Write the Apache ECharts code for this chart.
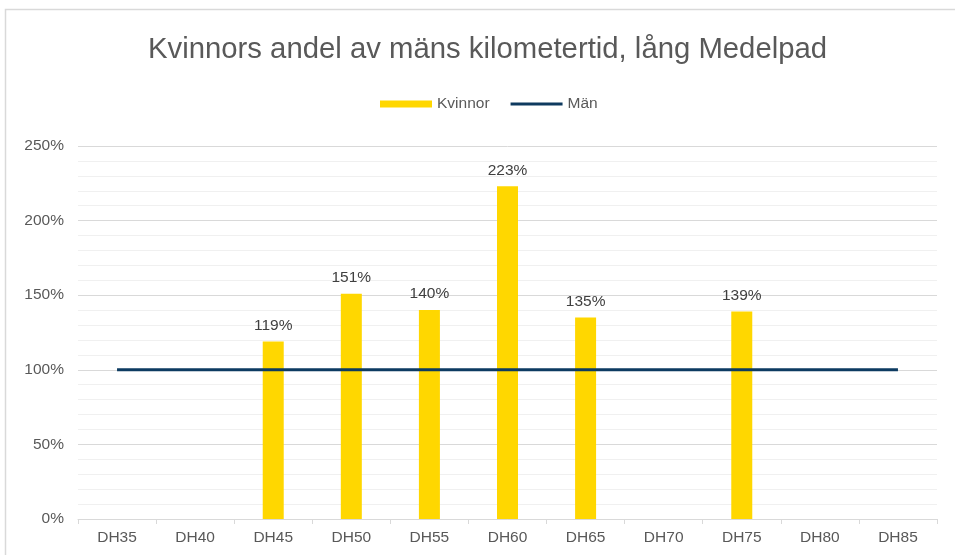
<!DOCTYPE html>
<html>
<head>
<meta charset="utf-8">
<script src="https://cdn.jsdelivr.net/npm/echarts@6/dist/echarts.min.js"></script>
<style>
  html, body { margin: 0; padding: 0; background: #fff; }
  #chart { width: 955px; height: 555px; }
</style>
</head>
<body>
<div id="chart"></div>
<script>
const categories = ["DH35", "DH40", "DH45", "DH50", "DH55", "DH60", "DH65", "DH70", "DH75", "DH80", "DH85"];
const kvinnor = [null, null, 119, 151, 140, 223, 135, null, 139, null, null];
const man = [100, 100, 100, 100, 100, 100, 100, 100, 100, 100, 100];

const chart = echarts.init(document.getElementById("chart"));

const option = {
  animation: false,
  textStyle: { fontFamily: "Liberation Sans, Arial, sans-serif" },
  graphic: [{
    type: "rect",
    shape: { x: 5.5, y: 9.5, width: 970, height: 570 },
    style: { fill: "none", stroke: "#d9d9d9", lineWidth: 1.5 },
    silent: true
  }],
  title: {
    text: "Kvinnors andel av mäns kilometertid, lång Medelpad",
    left: 143,
    top: 30,
    textStyle: { fontSize: 29.3, fontWeight: "normal", color: "#595959" }
  },
  legend: {
    top: 91,
    left: 375,
    itemGap: 21,
    itemWidth: 52,
    itemHeight: 7,
    textStyle: { fontSize: 15.5, color: "#595959" },
    data: [
      { name: "Kvinnor", icon: "rect" },
      { name: "Män", icon: "path://M0,0 H52 V3 H0 Z", itemStyle: { color: "#0e3a5f" } }
    ]
  },
  grid: { left: 78, right: 18, top: 146, bottom: 36 },
  xAxis: {
    type: "category",
    data: categories,
    axisLine: { lineStyle: { color: "#d9d9d9" } },
    axisTick: { show: true, length: 5, lineStyle: { color: "#d9d9d9" } },
    axisLabel: { fontSize: 15.5, color: "#595959", margin: 11 }
  },
  yAxis: {
    type: "value",
    min: 0,
    max: 250,
    interval: 50,
    axisLine: { show: false },
    axisTick: { show: false },
    axisLabel: { formatter: "{value}%", fontSize: 15.5, color: "#595959", margin: 14 },
    splitLine: { lineStyle: { color: "#d9d9d9", width: 1 } },
    minorTick: { show: false, splitNumber: 5 },
    minorSplitLine: { show: true, lineStyle: { color: "#f0f0f0", width: 1 } }
  },
  series: [
    {
      name: "Kvinnor",
      type: "bar",
      data: kvinnor,
      barWidth: 21,
      itemStyle: { color: "#ffd700" },
      label: {
        show: true,
        position: "top",
        distance: 8,
        formatter: (p) => p.value + "%",
        fontSize: 15.5,
        color: "#404040"
      }
    },
    {
      name: "Män",
      type: "line",
      data: man,
      symbol: "none",
      lineStyle: { color: "#0d3b61", width: 3 },
      itemStyle: { color: "#0d3b61" },
      z: 3
    }
  ]
};

chart.setOption(option);
</script>
</body>
</html>
